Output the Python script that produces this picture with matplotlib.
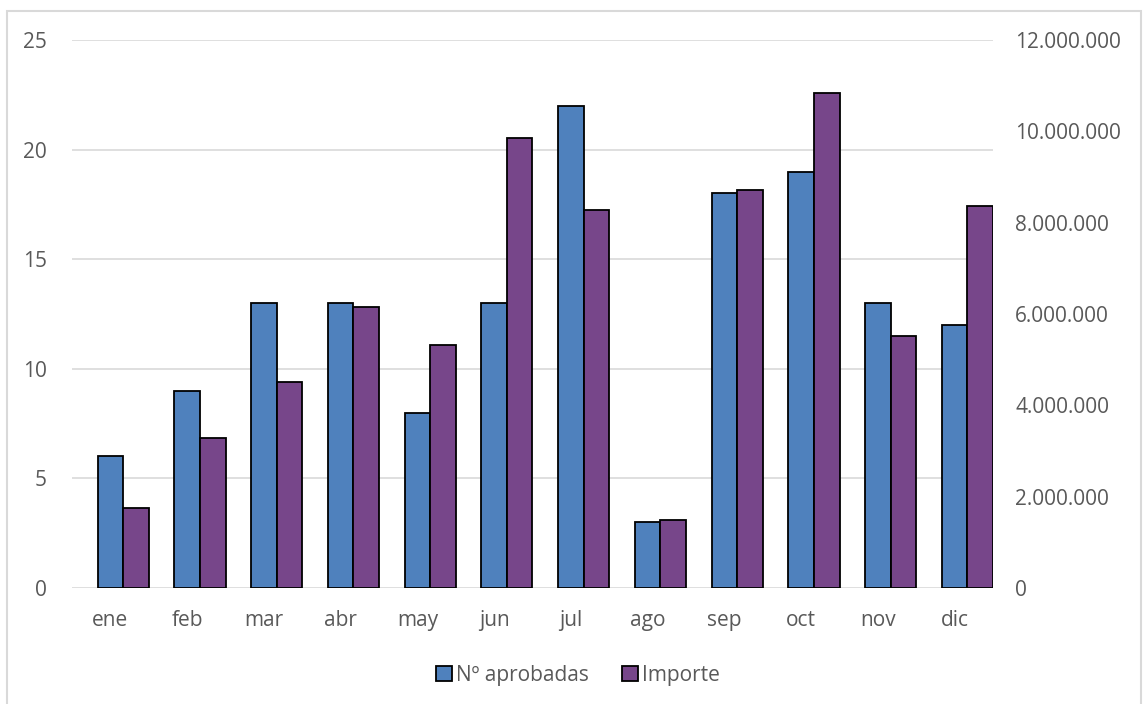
import numpy as np
import matplotlib.pyplot as plt
from matplotlib.patches import Rectangle
from matplotlib.ticker import FuncFormatter

plt.rcParams['font.family'] = ['Open Sans', 'DejaVu Sans']

meses = ['ene', 'feb', 'mar', 'abr', 'may', 'jun', 'jul', 'ago', 'sep', 'oct', 'nov', 'dic']
aprobadas = [6, 9, 13, 13, 8, 13, 22, 3, 18, 19, 13, 12]
importe = [1760000, 3280000, 4520000, 6160000, 5330000, 9860000,
           8280000, 1480000, 8710000, 10830000, 5520000, 8360000]

azul = '#4F81BD'
morado = '#77468A'
gris_txt = '#595959'
gris_lin = '#D9D9D9'

fig = plt.figure(figsize=(11.44, 7.04), dpi=100)
ax = fig.add_axes([72 / 1144, 116 / 704, 921 / 1144, 548 / 704])
ax2 = ax.twinx()

# las barras quedan corridas media barra a la derecha, como en el original
x = np.arange(len(meses))
w = 1 / 3
ax.bar(x, aprobadas, width=w, color=azul, edgecolor='black', linewidth=1.3,
       label='Nº aprobadas', zorder=3)
ax2.bar(x + w, importe, width=w, color=morado, edgecolor='black', linewidth=1.3,
        label='Importe', zorder=3)

ax.set_xlim(-0.5, 11.5)
ax.set_ylim(0, 25)
ax.set_yticks(range(0, 26, 5))
ax2.set_ylim(0, 12000000)
ax2.set_yticks(range(0, 12000001, 2000000))
ax2.yaxis.set_major_formatter(FuncFormatter(lambda v, p: f'{int(v):,}'.replace(',', '.')))

ax.set_xticks(x)
ax.set_xticklabels(meses)
ax.grid(axis='y', color=gris_lin, linewidth=1.2, zorder=0)
ax.set_axisbelow(True)

for a in (ax, ax2):
    for s in a.spines.values():
        s.set_visible(False)
    a.tick_params(length=0, colors=gris_txt, labelsize=15)
ax.tick_params(axis='y', pad=18)
ax.tick_params(axis='x', pad=16)
ax2.tick_params(axis='y', pad=16)

h1, l1 = ax.get_legend_handles_labels()
h2, l2 = ax2.get_legend_handles_labels()
fig.legend(h1 + h2, l1 + l2, loc='center', bbox_to_anchor=(0.505, 0.041), ncol=2,
           frameon=False, fontsize=15, labelcolor=gris_txt, handlelength=0.75,
           handleheight=0.75, handletextpad=0.2, columnspacing=1.6)

fig.add_artist(Rectangle((7 / 1144, -0.05), 1134 / 1144, 1.05 - 11 / 704,
                         transform=fig.transFigure, fill=False,
                         edgecolor=gris_lin, linewidth=1.5))

fig.savefig('out.png', dpi=100)
